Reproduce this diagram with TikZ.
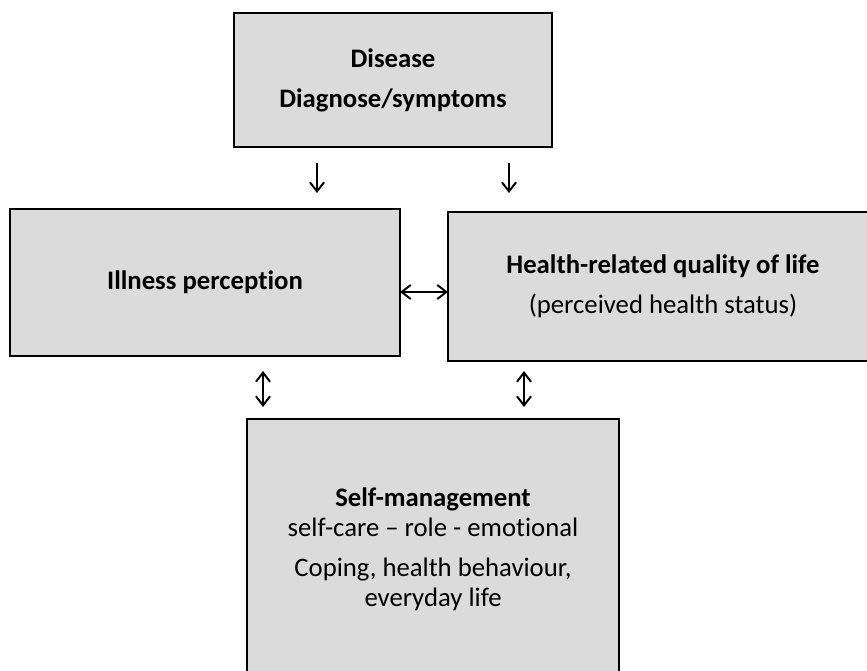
\documentclass[tikz,border=0pt]{standalone}
\usepackage{fontspec}
\setmainfont{Carlito}[Ligatures=NoCommon]
\usetikzlibrary{arrows.meta}
\definecolor{BoxClr}{rgb}{0.86,0.86,0.86}

\begin{document}
\begin{tikzpicture}[x=0.025cm,y=-0.025cm,
  box/.style={draw=black,line width=1.8pt,fill=BoxClr,inner sep=0pt,align=center,
    font=\fontsize{19pt}{21.3pt}\selectfont},
  arr/.style={line width=1.4pt,-{Straight Barb[length=6.5pt,width=10pt]}},
  darr/.style={line width=1.4pt,{Straight Barb[length=6.5pt,width=10pt]}-{Straight Barb[length=6.5pt,width=10pt]}}]
\useasboundingbox (0,0) rectangle (867,670);
\clip (0,0) rectangle (867,670);

\node[box,minimum width=7.95cm,minimum height=3.35cm] (dis) at (393,80)
  {\textbf{Disease}\\[7pt]\textbf{Diagnose/symptoms}};
\node[box,minimum width=9.75cm,minimum height=3.675cm] (ill) at (205,282.5)
  {\textbf{Illness perception}};
\node[box,minimum width=10.75cm,minimum height=3.725cm] (hrq) at (663,286.5)
  {\textbf{Health-related quality of life}\\[7pt](perceived health status)};
\node[box,minimum width=9.3cm,minimum height=6.5cm] (slf) at (433,549)
  {\textbf{Self-management}\\self-care – role - emotional\\[7pt]Coping, health behaviour,\\everyday life};

\coordinate (d1) at (317,163);
\coordinate (i1) at (317,193);
\coordinate (d2) at (509,163);
\coordinate (h1) at (509,193);
\coordinate (ie) at (400,292);
\coordinate (hw) at (448,292);
\coordinate (is) at (263,371);
\coordinate (s1) at (263,407);
\coordinate (hs) at (524,371);
\coordinate (s2) at (524,407);

\draw[arr] (d1) -- (i1);
\draw[arr] (d2) -- (h1);
\draw[darr] (ie) -- (hw);
\draw[darr] (is) -- (s1);
\draw[darr] (hs) -- (s2);

\end{tikzpicture}
\end{document}
